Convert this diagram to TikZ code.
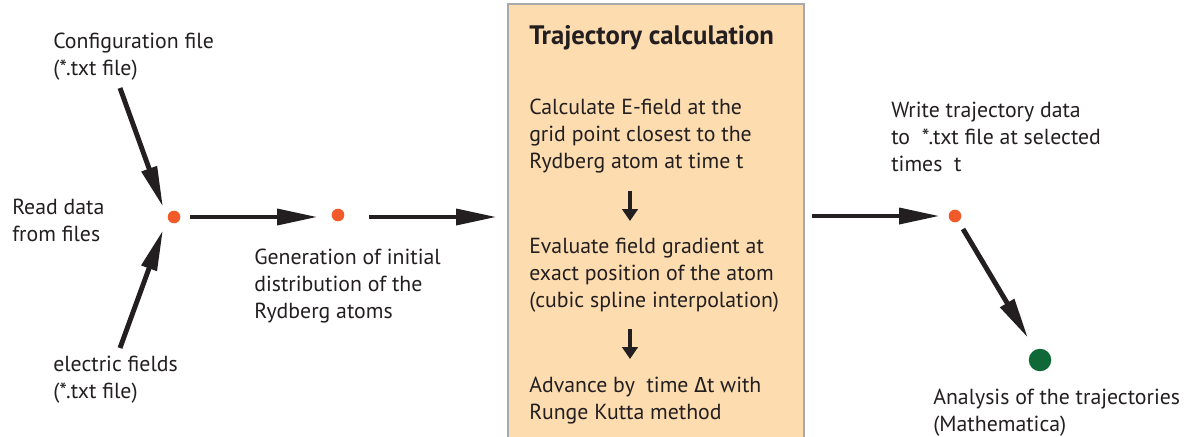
\documentclass[tikz,border=0pt]{standalone}
\usepackage{fontspec}
\setmainfont{PT Sans}
\newfontfamily\deltafont{Fira Sans}
\usepackage{tikz}
\usetikzlibrary{positioning,arrows.meta,calc}
\usepackage{xcolor}
\definecolor{peach}{HTML}{FDDCB0}
\definecolor{boxgray}{HTML}{A7A9AC}
\definecolor{inkblack}{HTML}{231F20}
\definecolor{dotorange}{HTML}{F15A29}
\definecolor{dotgreen}{HTML}{0E6838}

\begin{document}
\begin{tikzpicture}[x=0.025cm, y=-0.025cm,
    every node/.style={font=\fontsize{15.5pt}{19.2pt}\selectfont, text=inkblack, inner sep=0pt, align=left, anchor=north west},
    flow/.style={line width=3.5pt, draw=inkblack, -{Triangle[length=29pt, width=11pt]}},
    substep/.style={line width=2.8pt, draw=inkblack, -{Triangle[length=8.5pt, width=11pt]}},
    smalldot/.style={circle, fill=dotorange, minimum size=9pt, inner sep=0pt, anchor=center},
    bigdot/.style={circle, fill=dotgreen, minimum size=16pt, inner sep=0pt, anchor=center}]
    \useasboundingbox (0,0) rectangle (1190,436);

    % Trajectory box
    \draw[draw=boxgray, line width=1pt, fill=peach] (508,4) rectangle (804,445);
    \node[font=\fontsize{19pt}{22pt}\selectfont\bfseries] (title) at (529,25) {Trajectory calculation};
    \node (calc) at (529,99) {Calculate E-field at the\\grid point closest to the\\Rydberg atom at time t};
    \node (eval) at (529,238) {Evaluate field gradient at\\exact position of the atom\\(cubic spline interpolation)};
    \node (adv) at (529,377) {Advance by\ \ time {\deltafont Δ}t with\\Runge Kutta method};
    \coordinate (c1) at (630,191);
    \coordinate (c2) at (630,221);
    \coordinate (c3) at (630,329);
    \coordinate (c4) at (630,359);
    \draw[substep] (c1) -- (c2);
    \draw[substep] (c3) -- (c4);

    % Reading input
    \node (config) at (53,33) {Configuration file\\(*.txt file)};
    \node (read) at (12,199) {Read data\\from files};
    \node (efield) at (53,356) {electric fields\\(*.txt file)};
    \node[smalldot] (readdot) at (174,217) {};
    \coordinate (cfgend) at (120,88);
    \coordinate (efend) at (120,348);
    \draw[flow] (cfgend) -- ($(readdot)+(-11,-10)$);
    \draw[flow] (efend) -- ($(readdot)+(-11,13)$);

    % Initial distribution
    \node[smalldot] (gendot) at (338,215) {};
    \node (gen) at (254,249) {Generation of initial\\distribution of the\\Rydberg atoms};
    \coordinate (boxin) at (497,217);
    \draw[flow] ($(readdot)+(16,0)$) -- ($(gendot)+(-20,2)$);
    \draw[flow] ($(gendot)+(31,2)$) -- (boxin);

    % Output
    \node[smalldot] (outdot) at (955,216) {};
    \node (write) at (891,102) {Write trajectory data\\to\ \ *.txt file at selected\\times\ \ t};
    \coordinate (boxout) at (812,216);
    \draw[flow] (boxout) -- ($(outdot)+(-15,0)$);

    % Analysis
    \node[bigdot] (anadot) at (1040,360) {};
    \node (ana) at (933,389) {Analysis of the trajectories\\(Mathematica)};
    \draw[flow] ($(outdot)+(8,13)$) -- ($(anadot)+(-12,-22)$);
\end{tikzpicture}
\end{document}
